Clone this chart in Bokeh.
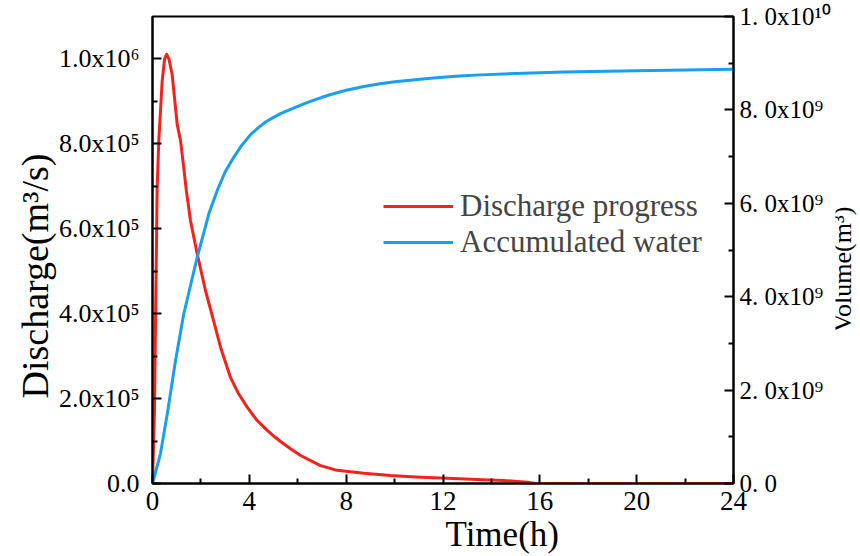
from bokeh.plotting import figure
from bokeh.layouts import row
from bokeh.models import (Range1d, LinearAxis, FixedTicker, Legend, LegendItem, Title,
                          Label)
from bokeh.embed import file_html
from bokeh.resources import INLINE

# ---- data ----
time_discharge = [0, 0.08, 0.19, 0.26, 0.4, 0.5, 0.58, 0.68, 0.81, 1.02, 1.16, 1.29,
                  1.40, 1.57, 1.85, 2.19, 2.47, 2.81, 3.22, 3.55, 3.91, 4.3, 4.74, 5.0,
                  5.29, 5.70, 6.12, 6.94, 7.63, 8.73, 9.83, 11.07, 12.18, 13.4, 14.5,
                  15.5, 15.8, 24]
discharge = [0, 1.65e5, 6.9e5, 8.07e5, 9.48e5, 1.0e6, 1.011e6, 1.0e6, 9.64e5, 8.46e5,
             8.07e5, 7.44e5, 6.89e5, 6.19e5, 5.4e5, 4.54e5, 3.95e5, 3.21e5, 2.5e5,
             2.12e5, 1.8e5, 1.5e5, 1.25e5, 1.12e5, 0.99e5, 0.82e5, 0.66e5, 0.42e5,
             0.31e5, 0.24e5, 0.19e5, 0.15e5, 0.125e5, 0.094e5, 0.07e5, 0.03e5, 0, 0]

time_volume = [0, 0.33, 0.61, 0.95, 1.29, 1.85, 2.33, 2.67, 3.0, 3.36, 3.7, 4.05, 4.4,
               4.67, 5.0, 5.29, 5.6, 5.98, 6.3, 6.67, 7.0, 7.36, 8.0, 8.73, 9.4, 10.1,
               11.49, 12.5, 13.55, 15, 17, 20, 24]
volume = [0, 0.64e9, 1.49e9, 2.63e9, 3.63e9, 4.85e9, 5.78e9, 6.27e9, 6.67e9, 6.99e9,
          7.25e9, 7.47e9, 7.63e9, 7.74e9, 7.84e9, 7.92e9, 7.99e9, 8.07e9, 8.14e9,
          8.21e9, 8.27e9, 8.33e9, 8.42e9, 8.50e9, 8.56e9, 8.61e9, 8.68e9, 8.72e9,
          8.75e9, 8.78e9, 8.81e9, 8.84e9, 8.87e9]

series_names = ["Discharge progress", "Accumulated water"]
x_title = "Time(h)"
y_title = "Discharge(m³/s)"
y2_title = "Volume(m³)"

x_ticks = [0, 4, 8, 12, 16, 20, 24]
x_minor = [2, 6, 10, 14, 18, 22]
q_ticks = [0, 2e5, 4e5, 6e5, 8e5, 1e6]
q_labels = ["0.0", "2.0x10⁵", "4.0x10⁵", "6.0x10⁵", "8.0x10⁵", "1.0x10⁶"]
q_minor = [1e5, 3e5, 5e5, 7e5, 9e5]
v_ticks = [0, 2e9, 4e9, 6e9, 8e9, 1e10]
v_labels = ["0. 0", "2. 0x10⁹", "4. 0x10⁹", "6. 0x10⁹", "8. 0x10⁹", "1. 0x10¹⁰"]
v_minor = [1e9, 3e9, 5e9, 7e9, 9e9]

FONT = "Liberation Serif"
RED = "#f5221b"
BLUE = "#179ff0"

p = figure(width=835, height=556, x_range=Range1d(0, 24), y_range=Range1d(0, 1.1e6),
           output_backend="svg", toolbar_location=None,
           min_border_left=152, min_border_right=102, min_border_top=16, min_border_bottom=73)
p.extra_y_ranges = {"vol": Range1d(0, 1e10)}
p.grid.visible = False
p.outline_line_color = "black"
p.outline_line_width = 2
p.background_fill_color = "white"
p.border_fill_color = "white"

r1 = p.line(time_discharge, discharge, line_color=RED, line_width=3, line_join="round")
r2 = p.line(time_volume, volume, line_color=BLUE, line_width=3, line_join="round",
            y_range_name="vol")

def style(ax, size="26px"):
    ax.axis_line_width = 2
    ax.axis_line_color = "black"
    ax.major_tick_in = 9
    ax.major_tick_out = 0
    ax.minor_tick_in = 5
    ax.minor_tick_out = 0
    ax.major_tick_line_width = 2
    ax.minor_tick_line_width = 2
    ax.major_label_text_font = FONT
    ax.major_label_text_font_size = size
    ax.major_label_text_color = "black"

xa = p.xaxis[0]
style(xa, "27px")
xa.ticker = FixedTicker(ticks=x_ticks, minor_ticks=x_minor)
xa.major_label_standoff = 8

ya = p.yaxis[0]
style(ya, "26px")
ya.ticker = FixedTicker(ticks=q_ticks, minor_ticks=q_minor)
ya.major_label_overrides = {t: l for t, l in zip(q_ticks, q_labels)}
ya.major_label_standoff = 13

ra = LinearAxis(y_range_name="vol")
style(ra, "25px")
ra.ticker = FixedTicker(ticks=v_ticks, minor_ticks=v_minor)
ra.major_label_overrides = {t: l for t, l in zip(v_ticks, v_labels)}
ra.major_label_standoff = 6
p.add_layout(ra, "right")

# axis titles for the bottom and left sides
p.add_layout(Title(text=x_title, align="left", offset=293, standoff=0,
                   text_font=FONT, text_font_size="35px", text_font_style="normal",
                   text_color="black"), "below")
p.add_layout(Title(text=y_title, align="left", offset=85, standoff=0,
                   text_font=FONT, text_font_size="38px", text_font_style="normal",
                   text_color="black"), "left")

legend = Legend(items=[LegendItem(label=series_names[0], renderers=[r1]),
                       LegendItem(label=series_names[1], renderers=[r2])],
                location=(231, 223), orientation="vertical")
legend.background_fill_alpha = 0
legend.border_line_alpha = 0
legend.padding = 0
legend.margin = 0
legend.spacing = 0
legend.glyph_width = 70
legend.glyph_height = 36
legend.label_height = 36
legend.label_standoff = 7
legend.label_text_font = FONT
legend.label_text_font_size = "31px"
p.add_layout(legend, "center")

# narrow strip on the right carrying the right-axis title (reads bottom to top)
side = figure(width=25, height=556, x_range=Range1d(0, 1), y_range=Range1d(0, 1),
              output_backend="svg", toolbar_location=None, min_border=0,
              x_axis_type=None, y_axis_type=None)
side.grid.visible = False
side.outline_line_color = None
side.border_fill_color = "white"
side.background_fill_color = "white"
side.add_layout(Label(x=7, y=214, x_units="screen", y_units="screen", text=y2_title,
                      angle=90, angle_units="deg", text_align="center",
                      text_baseline="alphabetic", text_font=FONT,
                      text_font_size="26px", text_color="black"))

layout = row(p, side, spacing=0)
open("out.html", "w").write(file_html(layout, INLINE))
